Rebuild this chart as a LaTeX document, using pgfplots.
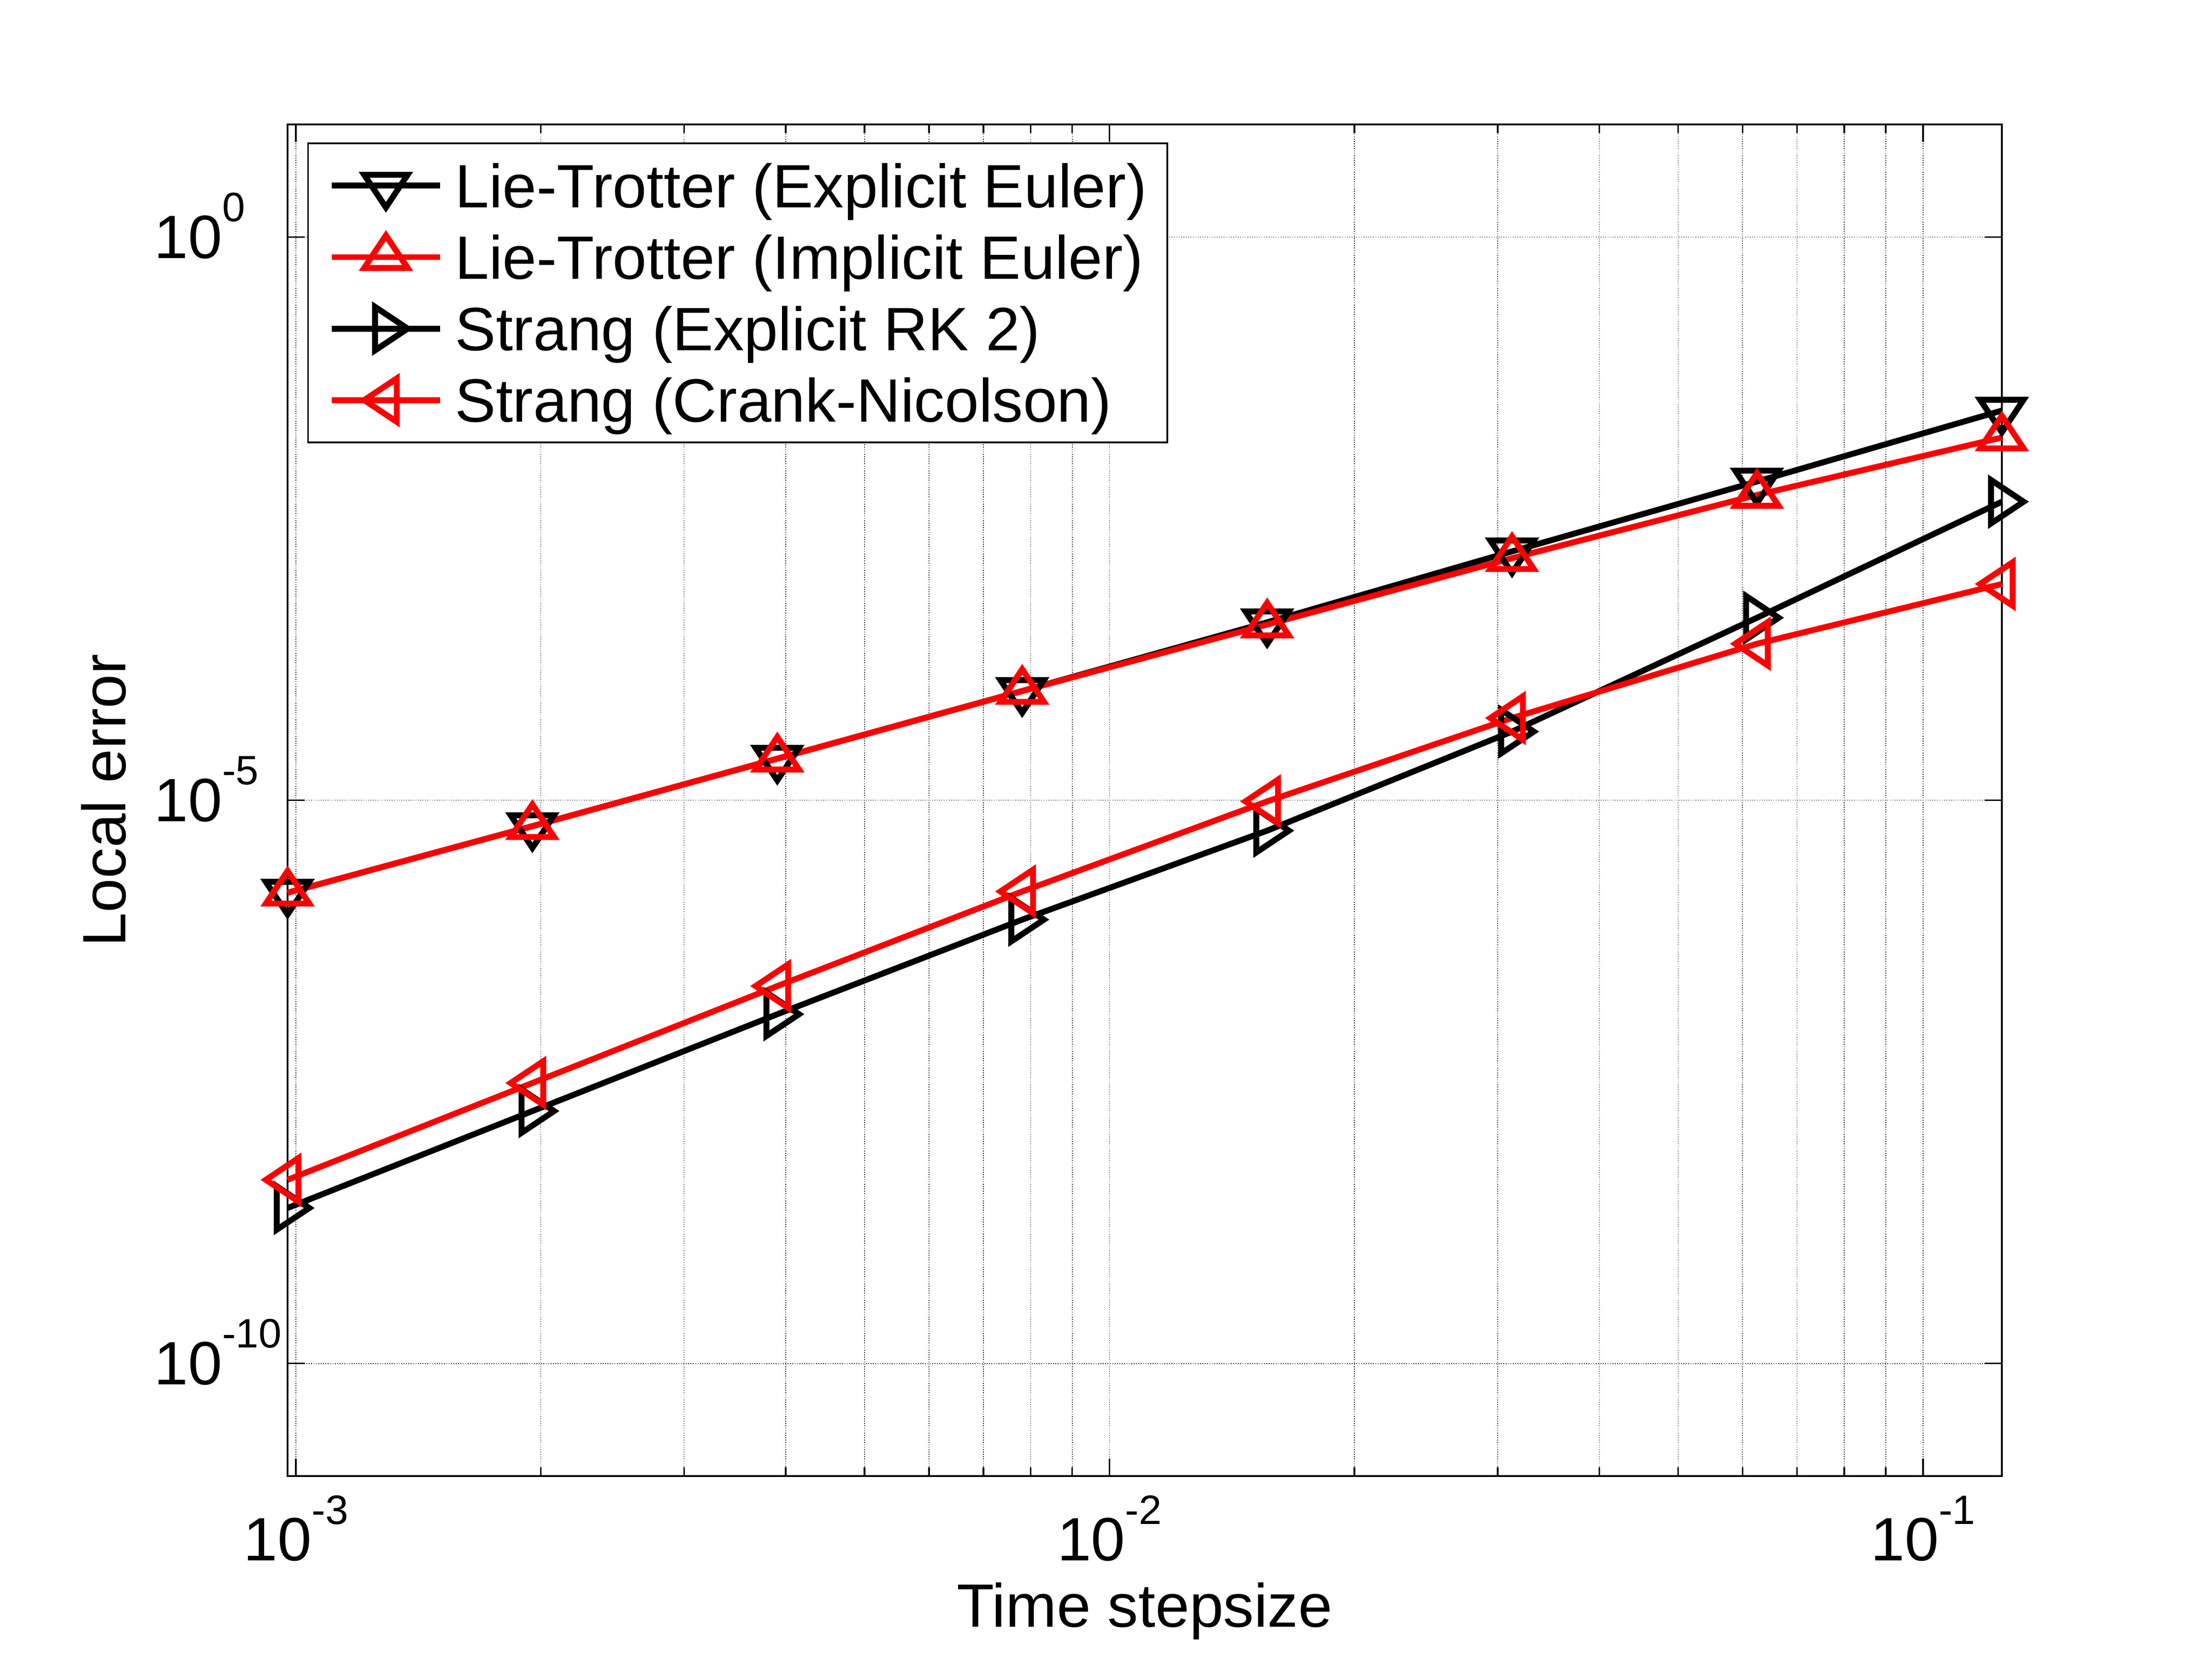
\documentclass[border=0pt]{standalone}
\usepackage{fontspec}
\setmainfont{Liberation Sans}
\usepackage{pgfplots}
\pgfplotsset{compat=1.18}

% tick label 10^k as MATLAB sets it: base digits, raised exponent with a hyphen
\newcommand{\tenp}[1]{10\smash{\raisebox{9.3pt}{\fontsize{10.4}{12}\selectfont #1}}}
\newcommand{\fs}{\fontsize{15.5}{18}\selectfont}

% flatter MATLAB-like triangles, centred on their centroid
\pgfdeclareplotmark{mup}{%
  \pgfpathmoveto{\pgfpoint{0pt}{\pgfplotmarksize}}%
  \pgfpathlineto{\pgfpoint{-\pgfplotmarksize}{-0.5\pgfplotmarksize}}%
  \pgfpathlineto{\pgfpoint{\pgfplotmarksize}{-0.5\pgfplotmarksize}}%
  \pgfpathclose\pgfusepathqstroke}
\pgfdeclareplotmark{mdown}{%
  \pgfpathmoveto{\pgfpoint{0pt}{-\pgfplotmarksize}}%
  \pgfpathlineto{\pgfpoint{-\pgfplotmarksize}{0.5\pgfplotmarksize}}%
  \pgfpathlineto{\pgfpoint{\pgfplotmarksize}{0.5\pgfplotmarksize}}%
  \pgfpathclose\pgfusepathqstroke}
\pgfdeclareplotmark{mright}{%
  \pgfpathmoveto{\pgfpoint{\pgfplotmarksize}{0pt}}%
  \pgfpathlineto{\pgfpoint{-0.5\pgfplotmarksize}{\pgfplotmarksize}}%
  \pgfpathlineto{\pgfpoint{-0.5\pgfplotmarksize}{-\pgfplotmarksize}}%
  \pgfpathclose\pgfusepathqstroke}
\pgfdeclareplotmark{mleft}{%
  \pgfpathmoveto{\pgfpoint{-\pgfplotmarksize}{0pt}}%
  \pgfpathlineto{\pgfpoint{0.5\pgfplotmarksize}{\pgfplotmarksize}}%
  \pgfpathlineto{\pgfpoint{0.5\pgfplotmarksize}{-\pgfplotmarksize}}%
  \pgfpathclose\pgfusepathqstroke}

\pgfplotsset{layers/gridbelow/.define layer set={axis background,axis grid,main,axis ticks,axis lines,axis tick labels,axis descriptions,axis foreground}{}}

\begin{document}
\begin{tikzpicture}
\begin{axis}[
    set layers=gridbelow,
    at={(72.8pt,46.3pt)}, anchor=south west,
    scale only axis, width=434pt, height=342.2pt,
    xmode=log, ymode=log,
    xmin=0.0009765625, xmax=0.125,
    ymin=1e-11, ymax=10,
    clip=false,
    xtick={1e-3,1e-2,1e-1},
    xticklabels={\tenp{-3},\tenp{-2},\tenp{-1}},
    minor xtick={2e-3,3e-3,4e-3,5e-3,6e-3,7e-3,8e-3,9e-3,2e-2,3e-2,4e-2,5e-2,6e-2,7e-2,8e-2,9e-2},
    ytick={1e-10,1e-5,1},
    yticklabels={\tenp{-10},\tenp{-5},\tenp{0}},
    tick align=inside,
    major tick length=4.4pt, minor tick length=2.2pt,
    every tick/.style={black, line width=0.4pt},
    axis line style={line width=0.4pt},
    xmajorgrids, xminorgrids, ymajorgrids,
    major grid style={black, line width=0.2pt, dash pattern=on 0.2pt off 0.4pt},
    minor grid style={black, line width=0.2pt, dash pattern=on 0.2pt off 0.4pt},
    tick label style={font=\fs, inner sep=0pt},
    xticklabel style={anchor=north, yshift=-10.4pt},
    yticklabel style={anchor=west, xshift=-34pt},
    xlabel={Time stepsize},
    ylabel={Local error},
    label style={font=\fs, inner sep=0pt},
    xlabel style={at={([yshift=-38.2pt]axis description cs:0.5,0)}, anchor=base},
    ylabel style={at={([xshift=-41pt]axis description cs:0,0.5)}, anchor=base},
    every axis plot/.append style={line width=1.5pt, mark size=5.5pt, mark options={solid, line width=1.5pt}},
    legend cell align=left,
    legend style={at={([xshift=5pt,yshift=-4.6pt]axis description cs:0,1)}, anchor=north west,
        draw=black, line width=0.4pt, fill=white, font=\fs,
        inner xsep=5.2pt, inner ysep=3.15pt, row sep=3pt, column sep=3pt,
        nodes={inner sep=0pt, text height=13.1pt, text depth=2pt}},
    legend image code/.code={
        \draw[mark repeat=2,mark phase=2] plot coordinates {(0pt,0pt) (13.75pt,0pt) (27.5pt,0pt)};
    },
]
\addplot[black, mark=mdown] table {
x y
0.0009765625 1.51e-6
0.001953125  5.89e-6
0.00390625   2.34e-5
0.0078125    9.33e-5
0.015625     3.80e-4
0.03125      1.62e-3
0.0625       6.76e-3
0.125        2.88e-2
};
\addlegendentry{Lie-Trotter (Explicit Euler)}
\addplot[red, mark=mup] table {
x y
0.0009765625 1.51e-6
0.001953125  5.89e-6
0.00390625   2.34e-5
0.0078125    9.33e-5
0.015625     3.63e-4
0.03125      1.41e-3
0.0625       5.13e-3
0.125        1.66e-2
};
\addlegendentry{Lie-Trotter (Implicit Euler)}
\addplot[black, mark=mright] table {
x y
0.0009765625 2.40e-9
0.001953125  1.74e-8
0.00390625   1.26e-7
0.0078125    8.71e-7
0.015625     5.37e-6
0.03125      4.07e-5
0.0625       4.17e-4
0.125        4.47e-3
};
\addlegendentry{Strang (Explicit RK 2)}
\addplot[red, mark=mleft] table {
x y
0.0009765625 4.27e-9
0.001953125  3.09e-8
0.00390625   2.24e-7
0.0078125    1.55e-6
0.015625     9.77e-6
0.03125      5.37e-5
0.0625       2.45e-4
0.125        8.32e-4
};
\addlegendentry{Strang (Crank-Nicolson)}
\end{axis}
\path (0,0) rectangle (560pt,420pt);
\end{tikzpicture}
\end{document}
